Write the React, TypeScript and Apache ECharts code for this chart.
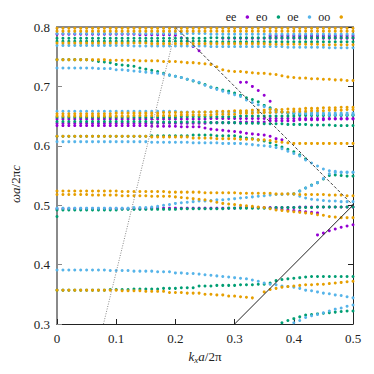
import React, { useEffect, useRef } from "react";
import * as echarts from "echarts";

// Each band: k0 = index of first kx sample (kx = index / 100), w = ωa/2πc values in units of 1e-3
type Band = { k0: number; w: number[] };

const xTicks = [0, 0.1, 0.2, 0.3, 0.4, 0.5];
const yTicks = [0.3, 0.4, 0.5, 0.6, 0.7, 0.8];
const seriesNames = ["ee", "eo", "oe", "oo"];

const eeBands: Band[] = [
  { k0: 0, w: [788,788,788,788,788,788,788,788,788,788, 788,788,788,788,787,787,787,787,787,787, 786,782,776,767,760] },
  { k0: 28, w: [781,781,781,781,781,781,781,781,781,781, 781,781,781,781,781,781,781,781,781,781, 781,781,781] },
  { k0: 36, w: [785,785,785,785,785,785,785,785,785,785, 785,785,785,785,785] },
  { k0: 31, w: [707,707,700,693,685,675] },
  { k0: 0, w: [645,645,645,645,645,645,645,645,645,645, 645,645,645,645,645,645,645,645,645,645, 645,645,645,645,645,645,646,646,646,646, 646,646,646,646,646,646,646,646,646,646, 646,646,646,646,646,646,646,646,646,646, 646] },
  { k0: 0, w: [638,638,638,638,638,638,638,638,638,638, 638,638,638,638,638,638,638,638,638,638, 638,638,638,638,638,638,639,639,639,639, 639,640,640,640,640,640,642,642,642,642, 642,644,644,644,644,644,645,645,645,645, 645] },
  { k0: 0, w: [634,634,634,634,634,634,634,634,634,634, 634,634,634,634,634,634,633,633,633,633, 633,632,632,632,632,630,628,627,626,625, 624,623,621,620,619,618,616,612,610] },
  { k0: 0, w: [494,494,494,494,494,494,494,494,494,494, 494,494,494,494,494,494,495,495,495,495, 495,495,495,495,495,495,495,495,495,495, 495,496,496,496,496,496,496,496,496,496, 496,497,497,497,497,497,497,497,497,497, 497] },
  { k0: 37, w: [494,493,492,491,490,489,488,487] },
  { k0: 44, w: [450,453,457,460,463,465,467] },
];

const eoBands: Band[] = [
  { k0: 0, w: [781,781,781,781,781,781,781,781,781,781, 781,781,781,781,781,781,781,781,781,781, 781,781,781,781,781,781,782,782,782,782, 782,782,782,782,782,782,782,782,782,782, 782,782,782,782,782,782,782,782,782,782, 782] },
  { k0: 0, w: [776,776,776,776,776,776,776,776,776,776, 776,776,776,776,776,776,776,776,776,776, 776,776,776,776,776,776,775,775,775,775, 775,775,775,775,775,775,775,775,775,775, 775,775,775,775,775,775,775,775,775,775, 775] },
  { k0: 0, w: [745,745,745,745,745,745,744,742,741,740, 737,736,735,734,731,729,727,725,722,719, 717,715,712,709,706,703,699,697,694,692, 689,685,681,678,674,668,664,660,657,655, 654,653,653,653,652,652,652,652,652,652, 652] },
  { k0: 0, w: [648,648,648,648,648,648,648,648,648,648, 648,648,648,648,648,648,648,648,648,648, 648,649,649,649,649,649,649,649,649,649, 649,650,650,650,650,650,650,650,650,650, 650,651,651,651,651,651,651,651,651,651, 651] },
  { k0: 0, w: [641,641,641,641,641,641,641,641,641,641, 641,641,641,641,641,641,640,640,640,640, 640,640,640,640,640,640,639,639,639,639, 639,638,638,638,638,637,637,637,637,636, 636,636,636,635,635,635,635,634,634,634, 634] },
  { k0: 0, w: [616,616,616,616,616,616,616,616,616,616, 616,616,616,616,616,616,617,617,617,617, 617,617,617,618,618,618,618,617,617,617, 617,615,613,612,610,608,605,601,598,594, 590,585,578] },
  { k0: 0, w: [492,492,492,492,492,492,492,492,492,492, 492,493,493,493,493,493,493,493,493,493, 493,494,494,494,494,494,494,494,494,495, 495,495,495,495,495,495,495,496,496,496, 496,496,496,496,497,497,497,497,497,497, 497] },
  { k0: 0, w: [481] },
  { k0: 40, w: [519,524,529,534,538,544,550,551,550,549,549] },
  { k0: 0, w: [357,357,357,357,357,357,357,357,357,358, 358,358,358,359,359,359,359,359,360,360, 360,361,361,361,364,364,364,365,365,365, 365,366,366,366,367,367,369,373,375,376, 377,378,379,380,380,380,380,380,380,380, 380] },
  { k0: 38, w: [302,306,309,312,315,316,317,318,319,320,321,322,322] },
];

const oeBands: Band[] = [
  { k0: 0, w: [789,789,789,789,789,789,789,789,789,789, 789,789,789,789,789,789,789,789,789,789, 789,789,789,789,789,789,788,788,788,788, 788,788,788,788,788,788,788,788,788,788, 788,788,788,788,788,788,788,788,788,788, 788] },
  { k0: 0, w: [769,769,769,769,769,769,769,769,769,769, 769,769,769,768,768,768,768,768,768,768, 768,768,768,768,768,768,767,767,767,767, 767,767,767,767,767,767,767,767,767,766, 766,766,766,766,766,766,765,765,765,765, 765] },
  { k0: 0, w: [731,731,731,731,731,731,731,730,730,730, 728,728,727,726,725,724,723,722,721,719, 717,715,712,710,707,702,698,695,692,689, 686,683,677,673,669,666,662,659,657,656, 655,654,654,653,653,653,652,652,652,652, 652] },
  { k0: 0, w: [658,658,658,658,658,658,658,658,658,658, 658,658,658,658,658,658,658,658,658,658, 658,657,657,657,657,657,657,657,657,657, 657,657,657,657,657,657,656,656,656,656, 656,656,656,656,656,655,655,655,655,655, 655] },
  { k0: 0, w: [607,607,607,607,607,607,607,607,607,607, 607,607,607,607,607,607,606,606,606,606, 606,606,606,605,605,605,605,605,604,604, 604,604,603,602,601,600,599,597,595,591, 587,583,576,571,566,561,558,557,556,556, 556] },
  { k0: 0, w: [495,495,495,495,495,495,495,495,495,495, 495,495,495,496,496,496,497,498,500,501, 503,504,505,506,507,507,508,509,509,510, 511,512,513,514,515,516,517,518,518,519, 519,515,512,510,509,508,507,507,506,506, 506] },
  { k0: 41, w: [524,529,533,538,545,553,555,555,555,555] },
  { k0: 0, w: [391,391,391,391,391,391,391,391,391,390, 390,390,390,389,389,389,389,388,388,388, 386,386,385,385,384,383,382,381,380,379, 378,377,376,374,372,369,367,366,364,363, 362,360,357,356,354,352,351,349,348,346, 344] },
  { k0: 40, w: [302,306,311,314,316,319,322,325,327,330,332] },
];

const ooBands: Band[] = [
  { k0: 0, w: [798,798,798,798,798,798,798,798,798,798, 798,798,798,798,798,798,798,798,798,798, 798,798,798,798,798,798,798,798,798,798, 798,798,798,798,798,798,798,798,798,798, 798,798,798,798,798,798,798,798,798,798, 798] },
  { k0: 0, w: [793,793,793,793,793,793,793,793,793,793, 793,793,793,793,793,793,793,793,793,793, 793,793,793,793,793,793,793,793,793,793, 793,793,793,793,793,793,793,793,793,793, 793,793,793,793,793,793,793,793,793,793, 793] },
  { k0: 0, w: [773,773,773,773,773,773,773,773,773,773, 773,773,773,773,773,773,772,772,772,772, 772,772,772,772,772,772,772,772,772,772, 772,772,772,772,772,772,771,771,771,771, 771,771,771,771,771,770,770,770,770,770, 770] },
  { k0: 0, w: [745,745,745,745,745,745,745,745,745,744, 744,744,744,744,743,743,743,743,742,742, 742,741,740,740,739,738,737,733,728,726, 725,725,724,723,722,722,721,720,718,716, 715,714,714,713,713,712,712,711,711,710, 710] },
  { k0: 0, w: [654,654,654,654,654,654,654,654,654,654, 655,655,655,655,655,655,655,655,656,656, 656,656,656,657,657,657,657,658,658,658, 659,659,659,660,660,660,661,661,661,662, 662,662,663,663,663,664,664,664,665,665, 665] },
  { k0: 0, w: [650,650,650,650,650,650,650,650,650,650, 650,650,650,651,651,651,651,651,651,651, 651,652,652,652,652,652,652,653,653,653, 653,655,655,655,656,656,656,657,657,657, 658,658,658,659,659,659,660,660,660,661, 661] },
  { k0: 0, w: [616,616,616,616,616,616,616,616,616,616, 616,616,616,616,616,616,615,615,615,615, 615,615,615,613,613,613,613,612,612,612, 612,611,611,611,610,610,609,607,606,605, 604,604,604,604,604,604,604,604,604,604, 604] },
  { k0: 0, w: [524,524,524,524,524,524,524,524,524,524, 524,523,523,523,523,523,523,523,523,522, 522,522,522,522,522,521,521,521,521,521, 521,520,520,520,520,520,520,519,519,519, 519,518,518,518,518,518,517,517,517,516, 516] },
  { k0: 0, w: [518,518,518,518,518,518,517,517,517,517, 517,516,516,516,516,516,515,515,515,515, 514,513,512,511,510,509,507,505,503,502, 501,500,499,498,497,496,494,492,491,490, 489,488,487,486,484,483,481,480,479,479, 479] },
  { k0: 0, w: [357,357,357,357,357,357,357,357,357,357, 357,356,356,356,356,355,355,355,355,353, 353,353,352,352,352,350,350,349,349,347, 347,346,345,344] },
  { k0: 35, w: [354,358,360,362,363,364,365,366,366,367,367,368,369,370,371,372] },
];

// reference lines: [kx, ωa/2πc] end points
const solidLine = [[0.3, 0.3], [0.5, 0.5]];
const dashedLine = [[0.2, 0.8], [0.5, 0.5]];
const dottedLine = [[0.0785, 0.3], [0.2015, 0.8]];

const colors = ["#9400d3", "#009e73", "#56b4e9", "#e69f00"];

function toPoints(bands: Band[]): number[][] {
  const pts: number[][] = [];
  for (const b of bands) {
    b.w.forEach((w, j) => pts.push([(b.k0 + j) / 100, w / 1000]));
  }
  return pts;
}

const FONT = "Liberation Serif";

export default function App() {
  const ref = useRef<HTMLDivElement>(null);
  useEffect(() => {
    const chart = echarts.init(ref.current!, undefined, { renderer: "svg" });
    const allBands = [eeBands, eoBands, oeBands, ooBands];
    const scatterSeries = seriesNames.map((name, i) => ({
      name,
      type: "scatter",
      symbol: "circle",
      symbolSize: 3,
      itemStyle: { color: colors[i], opacity: 1 },
      data: toPoints(allBands[i]),
      silent: true,
      z: 2,
    }));
    const lineSeries = [
      { data: solidLine, color: "#222", type: "solid", width: 1 },
      { data: dashedLine, color: "#444", type: [3, 2], width: 1 },
      { data: dottedLine, color: "#888", type: [1, 1.5], width: 1 },
    ].map((l) => ({
      type: "line",
      data: l.data,
      symbol: "none",
      silent: true,
      z: 3,
      lineStyle: { color: l.color, type: l.type, width: l.width },
    }));
    const labelStyle = { fontFamily: FONT, fontSize: 13, color: "#222" };
    const fmt = (v: number) => {
      const t = [...xTicks, ...yTicks].find((x) => Math.abs(x - v) < 1e-9);
      return t === 0 ? "0" : (t ?? v).toFixed(1);
    };
    chart.setOption({
      animation: false,
      backgroundColor: "#fff",
      color: colors,
      grid: { left: 57, right: 21, top: 27, bottom: 50, show: false },
      legend: {
        data: seriesNames,
        right: 26,
        top: 6,
        align: "right",
        icon: "circle",
        itemWidth: 12,
        itemHeight: 3.5,
        itemGap: 7,
        textStyle: { fontFamily: FONT, fontSize: 12, color: "#222" },
      },
      xAxis: [
        {
          type: "value",
          min: 0,
          max: 0.5,
          interval: 0.1,
          position: "bottom",
          axisLine: { show: true, onZero: false, lineStyle: { color: "#222", width: 1 } },
          axisTick: { show: true, inside: true, length: 5, lineStyle: { color: "#222" } },
          axisLabel: { ...labelStyle, margin: 8, formatter: fmt },
          splitLine: { show: false },
          name: "{i|k}{s|x}{i|a}{n|/2π}",
          nameLocation: "middle",
          nameGap: 20,
          nameTextStyle: {
            ...labelStyle,
            rich: {
              i: { fontFamily: FONT, fontSize: 13, fontStyle: "italic", color: "#222", lineHeight: 17 },
              s: { fontFamily: FONT, fontSize: 9, fontStyle: "italic", color: "#222", lineHeight: 9, verticalAlign: "bottom" },
              n: { fontFamily: FONT, fontSize: 13, color: "#222", lineHeight: 17 },
            },
          },
        },
        {
          type: "value",
          min: 0,
          max: 0.5,
          interval: 0.1,
          position: "top",
          axisLine: { show: true, onZero: false, lineStyle: { color: "#8a8a8a", width: 2 } },
          axisTick: { show: true, inside: true, length: 5, lineStyle: { color: "#8a8a8a" } },
          axisLabel: { show: false },
          splitLine: { show: false },
        },
      ],
      yAxis: [
        {
          type: "value",
          min: 0.3,
          max: 0.8,
          interval: 0.1,
          position: "left",
          axisLine: { show: true, onZero: false, lineStyle: { color: "#8a8a8a", width: 2 } },
          axisTick: { show: true, inside: true, length: 5, lineStyle: { color: "#8a8a8a" } },
          axisLabel: { ...labelStyle, margin: 7, formatter: fmt },
          splitLine: { show: false },
        },
        {
          type: "value",
          min: 0.3,
          max: 0.8,
          interval: 0.1,
          position: "right",
          axisLine: { show: true, onZero: false, lineStyle: { color: "#222", width: 1 } },
          axisTick: { show: true, inside: true, length: 5, lineStyle: { color: "#222" } },
          axisLabel: { show: false },
          splitLine: { show: false },
        },
      ],
      graphic: [
        {
          type: "text",
          x: 15,
          y: 184,
          rotation: Math.PI / 2,
          silent: true,
          style: {
            text: "{i|ωa}{n|/2π}{i|c}",
            align: "center",
            verticalAlign: "middle",
            fill: "#222",
            rich: {
              i: { fontFamily: FONT, fontSize: 13, fontStyle: "italic", fill: "#222" },
              n: { fontFamily: FONT, fontSize: 13, fill: "#222" },
            },
          },
        },
      ],
      series: [...scatterSeries, ...lineSeries],
    });
    return () => chart.dispose();
  }, []);
  return (
    <div
      ref={ref}
      style={{ position: "absolute", left: 0, top: 0, width: 374, height: 374, background: "#fff" }}
    />
  );
}
